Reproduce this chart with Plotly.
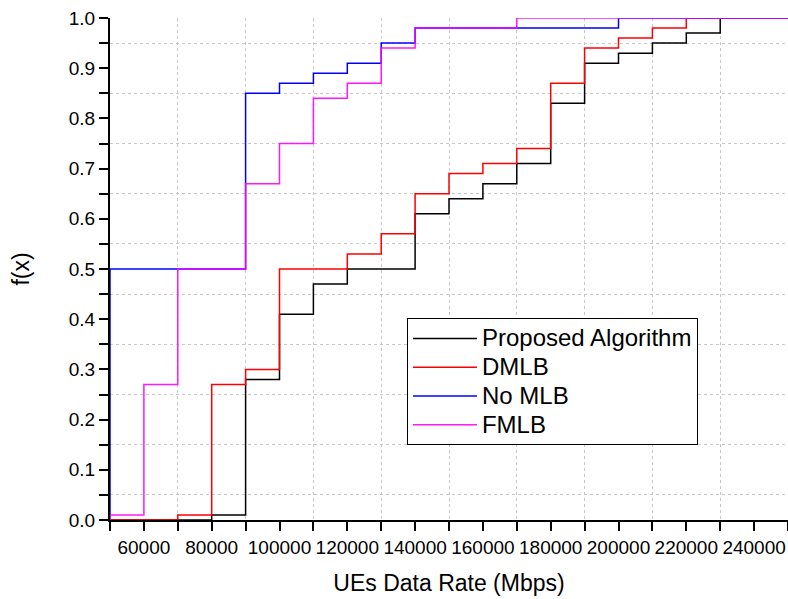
import plotly.graph_objects as go

# UE data rate bins (Mbps); 40000 is the point below the minimum where every CDF is 0
rates = [40000, 50000, 60000, 70000, 80000, 90000, 100000, 110000, 120000, 130000,
         140000, 150000, 160000, 170000, 180000, 190000, 200000, 210000, 220000,
         230000, 240000, 250000]

proposed = [0, 0, 0, 0, 0.01, 0.28, 0.41, 0.47, 0.50, 0.50,
            0.61, 0.64, 0.67, 0.71, 0.83, 0.91, 0.93, 0.95, 0.97,
            1.0, 1.0, 1.0]
dmlb = [0, 0, 0, 0.01, 0.27, 0.30, 0.50, 0.50, 0.53, 0.57,
        0.65, 0.69, 0.71, 0.74, 0.87, 0.94, 0.96, 0.98, 1.0,
        1.0, 1.0, 1.0]
no_mlb = [0, 0.50, 0.50, 0.50, 0.50, 0.85, 0.87, 0.89, 0.91, 0.95,
          0.98, 0.98, 0.98, 0.98, 0.98, 0.98, 1.0, 1.0, 1.0,
          1.0, 1.0, 1.0]
fmlb = [0, 0.01, 0.27, 0.50, 0.50, 0.67, 0.75, 0.84, 0.87, 0.94,
        0.98, 0.98, 0.98, 1.0, 1.0, 1.0, 1.0, 1.0, 1.0,
        1.0, 1.0, 1.0]

series_names = ["Proposed Algorithm", "DMLB", "No MLB", "FMLB"]
series_values = [proposed, dmlb, no_mlb, fmlb]
series_colors = ["#000000", "#ff0000", "#0000ff", "#ff00ff"]

x_tick_vals = [60000, 80000, 100000, 120000, 140000, 160000, 180000, 200000, 220000, 240000]
y_tick_vals = [0.0, 0.1, 0.2, 0.3, 0.4, 0.5, 0.6, 0.7, 0.8, 0.9, 1.0]
y_minor_vals = [0.05, 0.15, 0.25, 0.35, 0.45, 0.55, 0.65, 0.75, 0.85, 0.95]
x_minor_vals = [50000, 70000, 90000, 110000, 130000, 150000, 170000, 190000, 210000, 230000, 250000]
x_top_vals = list(range(50000, 250001, 10000))

FONT = "Arial, Liberation Sans, sans-serif"
GRID = "#c8c8c8"

fig = go.Figure()
for name, vals, col in zip(series_names, series_values, series_colors):
    fig.add_trace(go.Scatter(
        x=rates, y=vals, mode="lines",
        name=f'<span style="font-size:24px">{name}</span>',
        line=dict(color=col, width=1.5, shape="hv"),
        opacity=0.9 if name == "FMLB" else 1.0,
    ))

fig.update_layout(
    width=788, height=599,
    margin=dict(l=109.5, r=0, t=18, b=79),
    paper_bgcolor="white", plot_bgcolor="white",
    font=dict(family=FONT, color="black", size=19),
    showlegend=True,
    legend=dict(
        x=0.438, y=0.402, xanchor="left", yanchor="top",
        bgcolor="white", bordercolor="black", borderwidth=1,
        font=dict(size=19.8, family=FONT), itemwidth=64,
        tracegroupgap=0,
    ),
    xaxis=dict(
        range=[50000, 250000],
        tickmode="array", tickvals=x_tick_vals,
        ticktext=[str(v) for v in x_tick_vals],
        ticks="outside", ticklen=9, tickwidth=2, tickcolor="black",
        showline=True, linewidth=2, linecolor="black",
        showgrid=False, zeroline=False,
        tickfont=dict(size=19),
        minor=dict(tickmode="array", tickvals=x_minor_vals, ticks="outside",
                   ticklen=9, tickwidth=2, tickcolor="black",
                   showgrid=True, gridcolor=GRID, griddash="dot", gridwidth=1),
        title=dict(text="UEs Data Rate (Mbps)", font=dict(size=23), standoff=18),
    ),
    xaxis2=dict(
        range=[50000, 250000], overlaying="x", side="top", anchor="y",
        tickmode="array", tickvals=x_top_vals, showticklabels=False,
        ticks="inside", ticklen=9, tickwidth=2, tickcolor="black",
        showline=True, linewidth=2, linecolor="black",
        showgrid=False, zeroline=False, layer="below traces",
    ),
    yaxis=dict(
        range=[0, 1],
        tickmode="array", tickvals=y_tick_vals,
        ticktext=[f"{v:.1f}" for v in y_tick_vals],
        ticks="outside", ticklen=9, tickwidth=2, tickcolor="black",
        showline=True, linewidth=2, linecolor="black",
        showgrid=False, zeroline=False,
        tickfont=dict(size=19),
        minor=dict(tickmode="array", tickvals=y_minor_vals, ticks="outside",
                   ticklen=9, tickwidth=2, tickcolor="black",
                   showgrid=True, gridcolor=GRID, griddash="dot", gridwidth=1),
        title=dict(text="f(x)", font=dict(size=23), standoff=33),
    ),
)

fig.write_html("out.html", config={"displayModeBar": False},
               post_script="document.body.style.margin='0';")
